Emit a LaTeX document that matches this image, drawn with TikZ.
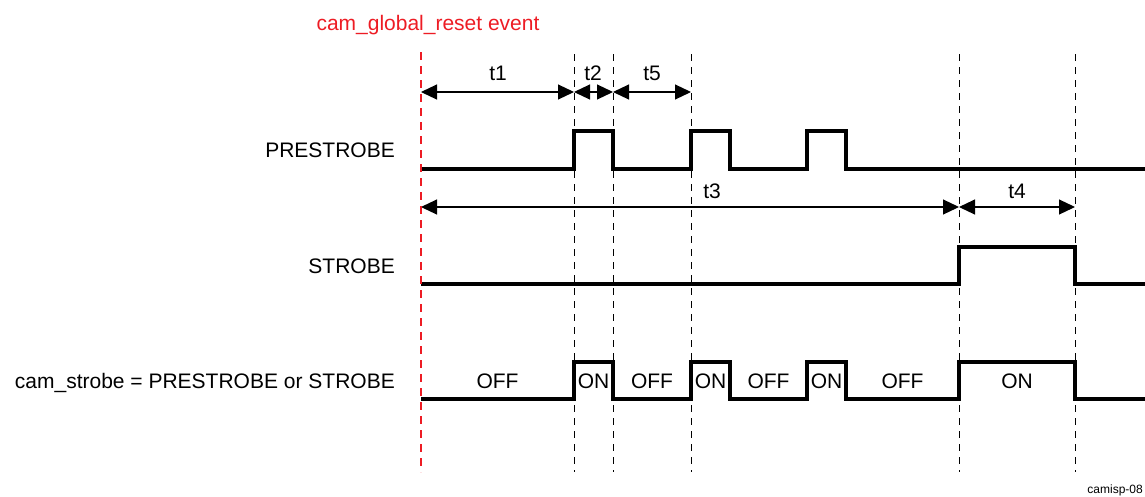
\documentclass[tikz,border=0pt]{standalone}
\usepackage{fontspec}
\setmainfont{Liberation Sans}
\usetikzlibrary{arrows.meta}
\definecolor{evred}{RGB}{237,28,36}

\begin{document}
\begin{tikzpicture}[x=1pt,y=-1pt,
    wave/.style={line width=3.2pt, line join=miter},
    guide/.style={dash pattern=on 7pt off 6pt, line width=0.9pt},
    span/.style={{Triangle[length=16pt,width=15pt]}-{Triangle[length=16pt,width=15pt]}, line width=1.1pt},
    txt/.style={font=\fontsize{21}{25}\selectfont, inner sep=0pt}]
  \useasboundingbox (0,0) rectangle (1145,496);

  % Hilfslinien
  \foreach \x in {574,613,691,959,1075}
    \draw[guide] (\x,54) -- (\x,472);

  % Zeitmarken
  \coordinate (a0) at (421,92);
  \coordinate (a1) at (574,92);
  \coordinate (a2) at (613,92);
  \coordinate (a5) at (691,92);
  \coordinate (b0) at (421,207);
  \coordinate (b3) at (959,207);
  \coordinate (b4) at (1075,207);

  % Zeitspannen
  \draw[span] (a0) -- (a1);
  \draw[span] (a1) -- (a2);
  \draw[span] (a2) -- (a5);
  \draw[span] (b0) -- (b3);
  \draw[span] (b3) -- (b4);
  \node[txt, anchor=base] (t1) at (498,80) {t1};
  \node[txt, anchor=base] (t2) at (593,80) {t2};
  \node[txt, anchor=base] (t5) at (652,80) {t5};
  \node[txt, anchor=base] (t3) at (712,198) {t3};
  \node[txt, anchor=base] (t4) at (1017,198) {t4};

  % Signale
  \draw[wave] (421,169) -- (574,169) -- (574,131) -- (613,131) -- (613,169)
    -- (691,169) -- (691,131) -- (730,131) -- (730,169)
    -- (807,169) -- (807,131) -- (846,131) -- (846,169) -- (1145,169);
  \draw[wave] (421,284) -- (959,284) -- (959,247) -- (1075,247) -- (1075,284) -- (1145,284);
  \draw[wave] (421,399) -- (574,399) -- (574,362) -- (613,362) -- (613,399)
    -- (691,399) -- (691,362) -- (730,362) -- (730,399)
    -- (807,399) -- (807,362) -- (846,362) -- (846,399)
    -- (959,399) -- (959,362) -- (1075,362) -- (1075,399) -- (1145,399);

  % Namen
  \node[txt, anchor=base east] (pre) at (395,157) {PRESTROBE};
  \node[txt, anchor=base east] (str) at (395,273) {STROBE};
  \node[txt, anchor=base east] (cam) at (395,388) {cam\_strobe = PRESTROBE or STROBE};

  % Zustaende
  \foreach \x/\s in {497.5/OFF,593.5/ON,652/OFF,710.5/ON,768.5/OFF,826.5/ON,902.5/OFF,1017/ON}
    \node[txt, anchor=base] at (\x,388) {\s};

  % Reset
  \draw[evred, dash pattern=on 8pt off 6pt, line width=1.8pt] (421,52) -- (421,472);
  \node[txt, text=evred, anchor=base] (ev) at (428,30) {cam\_global\_reset event};

  \node[font=\fontsize{12}{14}\selectfont, inner sep=0pt, anchor=base east] (id) at (1143,493) {camisp-08};
\end{tikzpicture}
\end{document}
